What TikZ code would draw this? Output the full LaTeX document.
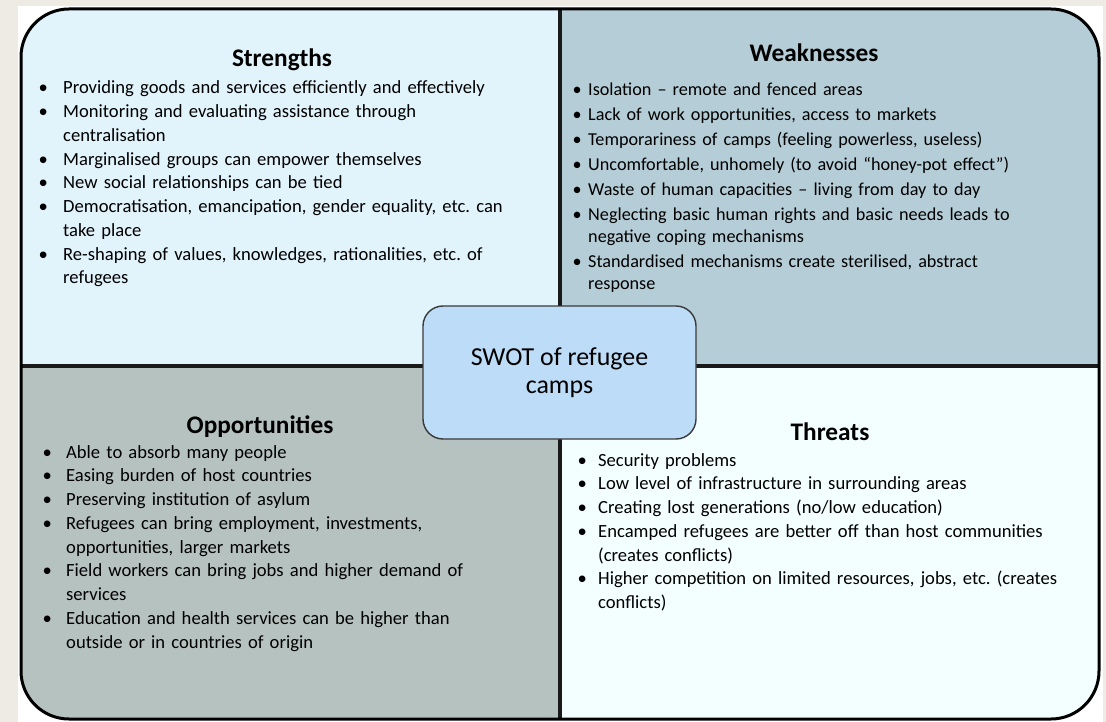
\documentclass[tikz,border=0pt]{standalone}
\usepackage{fontspec}
\setmainfont{Carlito}

\definecolor{pagebeige}{HTML}{EEEBE5}
\definecolor{strengthfill}{HTML}{E1F3FB}
\definecolor{weakfill}{HTML}{B5CDD6}
\definecolor{oppfill}{HTML}{B5C2BF}
\definecolor{threatfill}{HTML}{F3FEFE}
\definecolor{swotfill}{HTML}{BDDCF7}
\definecolor{swotline}{HTML}{3A3A3A}

\newlength{\bulw}
\newcommand{\swotitem}[1]{\hangindent=\bulw\hangafter=1\noindent\makebox[\bulw][l]{\textbullet}#1\par}

\begin{document}
\begin{tikzpicture}[x=1pt, y=-1pt,
    heading/.style ={font=\bfseries\fontsize{25.3}{28}\selectfont, inner sep=0pt, anchor=base},
    itemlist/.style={font=\fontsize{18.6}{23.75}\selectfont, inner sep=0pt, anchor=base west,
                     text width=520pt},
    divider/.style ={line width=3.2pt, black!90},
    frame/.style   ={line width=3pt, black, rounded corners=48pt},
    centerbox/.style={draw=swotline, line width=1.4pt, fill=swotfill, rounded corners=20pt,
                     minimum width=273pt, minimum height=133pt, align=center,
                     font=\fontsize{25.9}{28}\selectfont}]
   \useasboundingbox (0,0) rectangle (1106,722);
   \fill[pagebeige] (0,0) rectangle (1106,722);
   \fill[white] (18,6) rectangle (1103,722);

   \coordinate (nw) at (21,9);
   \coordinate (se) at (1099,719);
   \coordinate (mid) at (560,366);
   \coordinate (top) at (560,9);
   \coordinate (bottom) at (560,719);
   \coordinate (left) at (21,366);
   \coordinate (right) at (1099,366);

   % quadrants
   \begin{scope}
     \clip[rounded corners=48pt] (nw) rectangle (se);
     \fill[strengthfill] (nw) rectangle (mid);
     \fill[weakfill] (top) rectangle (right);
     \fill[oppfill] (left) rectangle (bottom);
     \fill[threatfill] (mid) rectangle (se);
   \end{scope}
   \draw[divider] (top) -- (bottom);
   \draw[divider] (left) -- (right);
   \draw[frame] (nw) rectangle (se);

   % headings
   \node[heading] (strengths) at (282,67) {Strengths};
   \node[heading] (weaknesses) at (814,62) {Weaknesses};
   \node[heading] (opportunities) at (260,433) {Opportunities};
   \node[heading] (threats) at (830,440) {Threats};

   % lists
   \node[itemlist] (strengthslist) at (38.4,94) {\frenchspacing\raggedright\setlength{\bulw}{24.6pt}%
     \swotitem{Providing goods and services efficiently and effectively}%
     \swotitem{Monitoring and evaluating assistance through\newline centralisation}%
     \swotitem{Marginalised groups can empower themselves}%
     \swotitem{New social relationships can be tied}%
     \swotitem{Democratisation, emancipation, gender equality, etc. can\newline take place}%
     \swotitem{Re-shaping of values, knowledges, rationalities, etc. of\newline refugees}};
   \node[itemlist, font=\fontsize{18.2}{22}\selectfont] (weaknesseslist) at (572.5,95.3)
     {\frenchspacing\raggedright\setlength{\bulw}{15.5pt}\setlength{\parskip}{3pt}%
     \swotitem{Isolation – remote and fenced areas}%
     \swotitem{Lack of work opportunities, access to markets}%
     \swotitem{Temporariness of camps (feeling powerless, useless)}%
     \swotitem{Uncomfortable, unhomely (to avoid “honey-pot effect”)}%
     \swotitem{Waste of human capacities – living from day to day}%
     \swotitem{Neglecting basic human rights and basic needs leads to\newline negative coping mechanisms}%
     \swotitem{Standardised mechanisms create sterilised, abstract\newline response}};
   \node[itemlist] (opportunitieslist) at (42.4,458) {\frenchspacing\raggedright\setlength{\bulw}{23.6pt}%
     \swotitem{Able to absorb many people}%
     \swotitem{Easing burden of host countries}%
     \swotitem{Preserving institution of asylum}%
     \swotitem{Refugees can bring employment, investments,\newline opportunities, larger markets}%
     \swotitem{Field workers can bring jobs and higher demand of\newline services}%
     \swotitem{Education and health services can be higher than\newline outside or in countries of origin}};
   \node[itemlist] (threatslist) at (577.4,466) {\frenchspacing\raggedright\setlength{\bulw}{20.6pt}%
     \swotitem{Security problems}%
     \swotitem{Low level of infrastructure in surrounding areas}%
     \swotitem{Creating lost generations (no/low education)}%
     \swotitem{Encamped refugees are better off than host communities\newline (creates conflicts)}%
     \swotitem{Higher competition on limited resources, jobs, etc. (creates\newline conflicts)}};

   % centre
   \node[centerbox] (swot) at (559.5,372.5) {SWOT of refugee\\camps};
 \end{tikzpicture}
\end{document}
